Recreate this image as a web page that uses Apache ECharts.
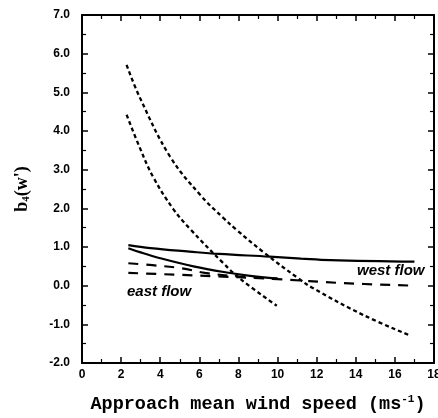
<!DOCTYPE html>
<html><head><meta charset="utf-8">
<script src="https://cdn.jsdelivr.net/npm/echarts@6/dist/echarts.min.js"></script>
<style>html,body{margin:0;padding:0;background:#fff}#c{width:438px;height:418px}</style>
</head><body><div id="c"></div>
<script>
// x range / ticks
const xMin = 0, xMax = 18, xStep = 2;
const yMin = -2, yMax = 7, yStep = 1;

// steep short-dashed curves
const steepUpper = [[2.28,5.71],[2.97,4.85],[4.5,3.34],[6.04,2.35],[7.23,1.75],[7.91,1.44],[9.27,0.87],[11.06,0.19],[11.83,-0.07],[14.39,-0.76],[16.78,-1.29]];
const steepLower = [[2.28,4.42],[2.97,3.55],[3.65,2.80],[4.67,1.98],[5.52,1.47],[7.23,0.58],[8.08,0.18],[9.96,-0.52]];
// west flow
const westSolid = [[2.37,1.05],[3.5,0.97],[5.5,0.88],[7,0.82],[9.6,0.75],[11.2,0.70],[12.7,0.66],[17,0.62]];
const westDashed = [[2.37,0.33],[6,0.26],[10,0.17],[13.2,0.07],[17,0.0]];
// east flow
const eastSolid = [[2.37,0.97],[3,0.86],[4,0.71],[5.7,0.50],[7.4,0.34],[8.5,0.26],[10,0.18]];
const eastDashed = [[2.37,0.58],[3.6,0.53],[5.1,0.45],[6.3,0.33],[8,0.24],[10,0.18]];

const chart = echarts.init(document.getElementById('c'), null, {renderer:'canvas'});
const axisLine = {show:true, onZero:false, lineStyle:{color:'#000', width:2}};
const tickLbl = {color:'#000', fontFamily:'Liberation Sans', fontWeight:'bold', fontSize:12};
function mk(data, type, w){ return {type:'line', data:data, smooth:0.4, symbol:'none', xAxisIndex:0, yAxisIndex:0,
  lineStyle:{color:'#000', width:w, type:type}, silent:true}; }
const tick = {show:true, inside:true, length:6, lineStyle:{color:'#000', width:1.5}};
const minor = {show:true, splitNumber:2, length:4, lineStyle:{color:'#000', width:1.2}};

chart.setOption({
  animation:false,
  grid:{left:82, right:4, top:15, bottom:55, containLabel:false, outerBoundsMode:'none'},
  xAxis:[{type:'value', min:xMin, max:xMax, interval:xStep, position:'bottom',
      axisLine:axisLine, axisTick:tick, minorTick:minor,
      splitLine:{show:false}, axisLabel:Object.assign({margin:6, formatter:v=>String(v)}, tickLbl),
      name:'Approach mean wind speed (ms{sup|-1})', nameLocation:'middle', nameGap:31,
      nameTextStyle:{color:'#000', fontFamily:'Liberation Mono', fontWeight:'bold', fontSize:18.5,
        rich:{sup:{fontFamily:'Liberation Mono', fontWeight:'bold', fontSize:11, padding:[0,0,9,0]}}}},
    {type:'value', min:xMin, max:xMax, interval:xStep, position:'top',
      axisLine:axisLine, axisTick:tick, minorTick:minor,
      splitLine:{show:false}, axisLabel:{show:false}}],
  yAxis:[{type:'value', min:yMin, max:yMax, interval:yStep, position:'left',
      axisLine:axisLine, axisTick:tick, minorTick:minor,
      splitLine:{show:false}, axisLabel:Object.assign({margin:12, formatter:v=>v.toFixed(1)}, tickLbl),
      name:'b{sub|4}(w\')', nameLocation:'middle', nameRotate:90, nameGap:50,
      nameTextStyle:{color:'#000', fontFamily:'Liberation Serif', fontWeight:'bold', fontSize:18,
        rich:{sub:{fontFamily:'Liberation Serif', fontWeight:'bold', fontSize:11, padding:[9,0,0,0]}}}},
    {type:'value', min:yMin, max:yMax, interval:yStep, position:'right',
      axisLine:axisLine, axisTick:tick, minorTick:minor,
      splitLine:{show:false}, axisLabel:{show:false}}],
  series:[
    mk(steepUpper, [4,3], 2.3),
    mk(steepLower, [4,3], 2.3),
    mk(westSolid, 'solid', 2.2),
    mk(westDashed, [10,8], 2.2),
    mk(eastSolid, 'solid', 2.2),
    mk(eastDashed, [10,8], 2.2)
  ],
  graphic:[
    {type:'text', left:357, top:263, style:{text:'west flow', fill:'#000', font:'italic bold 15px "Liberation Sans"'}},
    {type:'text', left:127, top:284, style:{text:'east flow', fill:'#000', font:'italic bold 15px "Liberation Sans"'}}
  ]
});
</script></body></html>
